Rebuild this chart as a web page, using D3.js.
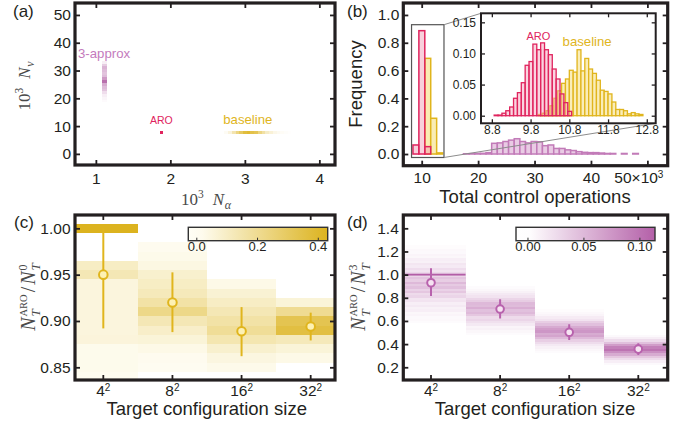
<!DOCTYPE html>
<html>
<head>
<meta charset="utf-8">
<script src="https://cdn.jsdelivr.net/npm/d3@7"></script>
<style>
  body { margin: 0; background: #fff; }
  svg { display: block; font-family: "Liberation Sans", Arial, Helvetica, sans-serif; }
</style>
</head>
<body>
<svg width="693" height="429"></svg>
<script>
// ---------- data ----------
// (a) resource map, 10^3 N_alpha vs 10^3 N_nu
const approxNa = 1.118;
const approxNv = [19, 20, 21, 22, 23, 24, 25, 26, 27, 28, 29, 30, 31, 32, 33];
const approxShade = [0.03, 0.06, 0.1, 0.2, 0.35, 0.4, 0.5, 0.85, 0.6, 0.4, 0.35, 0.4, 0.45, 0.3, 0.1];
const baseNv = 7.8;
const baseNa = [2.75, 2.80, 2.85, 2.90, 2.95, 3.00, 3.05, 3.10, 3.15, 3.20, 3.25, 3.30, 3.35, 3.40, 3.45, 3.50, 3.55, 3.60];
const baseShade = [0.05, 0.15, 0.35, 0.55, 0.7, 0.85, 0.9, 0.8, 0.75, 0.55, 0.4, 0.25, 0.18, 0.1, 0.06, 0.04, 0.02, 0.01];
const aroNa = 1.88, aroNv = 7.8;

// (b) histograms of total control operations (10^3)
const mainEdges = [8.45, 9.5, 10.55, 11.6, 12.65, 13.7];
const aroMain = [0.065, 0.887, 0.053, 0, 0];
const baseMain = [0, 0, 0.688, 0.257, 0.008];
const approxStart = 17.4;
const approxFreq = [0.002, 0.003, 0.004, 0.005, 0.01, 0.077, 0.08, 0.09, 0.1, 0.11, 0.09, 0.08, 0.09,
  0.088, 0.06, 0.065, 0.04, 0.04, 0.03, 0.025, 0.017, 0.012, 0.01, 0.01, 0.007, 0.004, 0.004, 0, 0.004, 0, 0.004];
const aroInsetStart = 8.86;
const aroInset = [0.001, 0.001, 0.004, 0.008, 0.014, 0.028, 0.037, 0.053, 0.081, 0.087,
  0.115, 0.106, 0.117, 0.106, 0.098, 0.075, 0.059, 0.035, 0.021, 0.007];
const baseInsetStart = 10.0;
const baseInset = [0.002, 0.004, 0.008, 0.016, 0.028, 0.040, 0.052, 0.059, 0.073, 0.070, 0.106, 0.072, 0.092,
  0.075, 0.068, 0.057, 0.041, 0.039, 0.035, 0.022, 0.010, 0.010, 0.008, 0.003, 0.005, 0.003, 0.002];

// (c) N_T^ARO / N_T^0 per target size
const sizes = ["4", "8", "16", "32"];
const ratioBinsC = [1.00, 0.99, 0.98, 0.97, 0.96, 0.95, 0.94, 0.93, 0.92, 0.91, 0.90, 0.89, 0.88, 0.87, 0.86, 0.85, 0.84];
const shadeC4 = [0.45, 0, 0, 0, 0.10, 0.13, 0.05, 0.05, 0.05, 0.05, 0.05, 0.05, 0.055, 0.02, 0.02, 0.02, 0.012];
const shadeC8 = [0, 0, 0.015, 0.025, 0.04, 0.08, 0.10, 0.12, 0.16, 0.22, 0.13, 0.09, 0.06, 0.03, 0.015, 0.01, 0];
const shadeC16 = [0, 0, 0, 0, 0, 0, 0.03, 0.07, 0.10, 0.13, 0.16, 0.19, 0.14, 0.08, 0.045, 0.025, 0];
const shadeC32 = [0, 0, 0, 0, 0, 0, 0, 0, 0.06, 0.20, 0.33, 0.36, 0.12, 0.06, 0.03, 0, 0];
const meanC = [0.950, 0.920, 0.889, 0.894];
const lowC = [0.892, 0.888, 0.862, 0.879];
const highC = [1.000, 0.9525, 0.915, 0.909];

// (d) N_T^ARO / N_T^3 per target size (bins of 0.02 from each start)
const startD = [0.58, 0.48, 0.32, 0.22];
const shadeD4 = [0.003, 0.005, 0.004, 0.008, 0.006, 0.012, 0.010, 0.016, 0.012, 0.020, 0.018, 0.030, 0.026, 0.040,
  0.032, 0.045, 0.038, 0.050, 0.035, 0.042, 0.030, 0.028, 0.020, 0.024, 0.015, 0.018, 0.010, 0.012, 0.006, 0.008,
  0.004, 0.005, 0.002, 0.002];
const shadeD8 = [0.003, 0.006, 0.010, 0.008, 0.016, 0.022, 0.030, 0.026, 0.040, 0.050, 0.045, 0.058, 0.048, 0.050,
  0.036, 0.030, 0.020, 0.016, 0.010, 0.006, 0.003];
const shadeD16 = [0.003, 0.006, 0.010, 0.016, 0.025, 0.035, 0.050, 0.065, 0.060, 0.075, 0.070, 0.060, 0.045, 0.035,
  0.020, 0.014, 0.008, 0.005, 0.002];
const shadeD32 = [0.004, 0.012, 0.025, 0.040, 0.060, 0.080, 0.100, 0.090, 0.070, 0.045, 0.025, 0.012, 0.004];
const tieD = 1.0, tieShadeD = 0.12;
const meanD = [0.930, 0.703, 0.502, 0.357];
const lowD = [0.815, 0.622, 0.435, 0.306];
const highD = [1.055, 0.787, 0.571, 0.407];

// ---------- style ----------
const ink = "#231f20";
const red = "#e0245e", gold = "#e0b51d", plum = "#b862ad";
const serif = "'Liberation Serif', 'DejaVu Serif', serif";

const svg = d3.select("svg");
const defs = svg.append("defs");

function clip(id, b) {
  defs.append("clipPath").attr("id", id).append("rect")
    .attr("x", b.x0).attr("y", b.y0).attr("width", b.x1 - b.x0).attr("height", b.y1 - b.y0);
  return `url(#${id})`;
}

function axes(g, x, y, b, o) {
  const tl = o.tl || 5;
  const style = sel => {
    sel.select(".domain").remove();
    sel.selectAll(".tick line").attr("stroke", ink).attr("stroke-width", o.tw || 1.8);
    sel.selectAll(".tick text").attr("fill", ink).style("font-size", (o.fs || 15.5) + "px")
      .style("font-family", "'Liberation Sans', Arial, sans-serif");
  };
  const bottom = g.append("g").attr("transform", `translate(0,${b.y1})`)
    .call(d3.axisBottom(x).tickValues(o.xt).tickFormat(o.xf).tickSize(-tl).tickPadding(o.xp)).call(style);
  g.append("g").attr("transform", `translate(0,${b.y0})`)
    .call(d3.axisTop(x).tickValues(o.xt).tickFormat("").tickSize(-tl)).call(style);
  g.append("g").attr("transform", `translate(${b.x0},0)`)
    .call(d3.axisLeft(y).tickValues(o.yt).tickFormat(o.yf).tickSize(-tl).tickPadding(o.yp)).call(style);
  g.append("g").attr("transform", `translate(${b.x1},0)`)
    .call(d3.axisRight(y).tickValues(o.yt).tickFormat("").tickSize(-tl)).call(style);
  g.append("rect").attr("x", b.x0).attr("y", b.y0)
    .attr("width", b.x1 - b.x0).attr("height", b.y1 - b.y0)
    .attr("fill", "none").attr("stroke", ink).attr("stroke-width", o.fw || 3.2);
  return bottom;
}

function mathLabel(tx, ty, rot, pieces) {
  const g = svg.append("g").attr("transform", `translate(${tx},${ty}) rotate(${rot})`);
  const inner = g.append("g");
  let cx = 0;
  pieces.forEach(p => {
    const items = p.stack || [p];
    let w = 0;
    items.forEach(s => {
      const t = inner.append("text").attr("x", cx).attr("y", s.dy || 0)
        .attr("font-family", serif).attr("font-style", s.it ? "italic" : "normal")
        .attr("font-size", s.fs).attr("fill", "#4a4a4a").text(s.t);
      w = Math.max(w, t.node().getComputedTextLength());
    });
    cx += w + (p.gap || 0);
  });
  inner.attr("transform", `translate(${-cx / 2},0)`);
}

function panelLabel(x, y, t) {
  svg.append("text").attr("x", x).attr("y", y).attr("font-size", 17).attr("fill", ink).text(t);
}

function supTicks(sel) {
  sel.selectAll(".tick text").each(function(d) {
    const t = d3.select(this).text(d);
    t.append("tspan").attr("dy", "-0.5em").attr("font-size", "10px").text("2");
  });
}

function bars(g, x, y, data, fill, stroke, sw) {
  g.append("g").selectAll("rect").data(data.filter(d => d.f > 0)).join("rect")
    .attr("x", d => x(d.x0)).attr("width", d => x(d.x1) - x(d.x0))
    .attr("y", d => y(d.f)).attr("height", d => y(0) - y(d.f))
    .attr("fill", fill).attr("stroke", stroke).attr("stroke-width", sw);
}
const toBins = (start, w, vals) => vals.map((f, i) => ({ x0: start + i * w, x1: start + (i + 1) * w, f }));

// ---------- (a) ----------
{
  const b = { x0: 75, x1: 335, y0: 3, y1: 165 };
  const x = d3.scaleLinear().domain([0.72, 4.21]).range([b.x0, b.x1]);
  const y = d3.scaleLinear().domain([-4, 54.3]).range([b.y1, b.y0]);
  const g = svg.append("g");
  const inner = g.append("g").attr("clip-path", clip("clipA", b)).attr("shape-rendering", "crispEdges");
  const colP = d3.scaleLinear().domain([0, 1]).range(["#ffffff", "#ad579f"]);
  const colG = d3.scaleLinear().domain([0, 1]).range(["#ffffff", "#dcb21c"]);

  inner.selectAll(".ap").data(approxNv).join("rect").attr("class", "ap")
    .attr("x", x(approxNa - 0.038)).attr("width", x(approxNa + 0.038) - x(approxNa - 0.038))
    .attr("y", d => y(d + 0.5)).attr("height", d => y(d - 0.5) - y(d + 0.5))
    .attr("fill", (d, i) => colP(approxShade[i]));

  inner.selectAll(".bs").data(baseNa).join("rect").attr("class", "bs")
    .attr("x", d => x(d - 0.025)).attr("width", d => x(d + 0.025) - x(d - 0.025))
    .attr("y", y(baseNv + 0.55)).attr("height", y(baseNv - 0.55) - y(baseNv + 0.55))
    .attr("fill", (d, i) => colG(baseShade[i]));

  inner.append("rect")
    .attr("x", x(aroNa - 0.02)).attr("width", x(aroNa + 0.02) - x(aroNa - 0.02))
    .attr("y", y(aroNv + 0.5)).attr("height", y(aroNv - 0.5) - y(aroNv + 0.5))
    .attr("fill", red);

  g.append("text").attr("x", x(1.11)).attr("y", y(34.6)).attr("text-anchor", "middle")
    .attr("font-size", 13.2).attr("fill", "#c47bbd").text("3-approx");
  g.append("text").attr("x", x(1.88)).attr("y", y(10.75)).attr("text-anchor", "middle")
    .attr("font-size", 10.5).attr("fill", red).text("ARO");
  g.append("text").attr("x", x(3.04)).attr("y", y(10.6)).attr("text-anchor", "middle")
    .attr("font-size", 13.2).attr("fill", gold).text("baseline");

  axes(g, x, y, b, { xt: [1, 2, 3, 4], xf: d3.format("d"), xp: 7.5, yt: [0, 10, 20, 30, 40, 50], yf: d3.format("d"), yp: 4 });

  mathLabel(206, 205, 0, [{ t: "10", fs: 17 }, { t: "3", fs: 11.5, dy: -7.5, gap: 9 }, { t: "N", fs: 17, it: true, gap: 0.5 }, { t: "α", fs: 12, it: true, dy: 4 }]);
  mathLabel(30, 86, -90, [{ t: "10", fs: 17 }, { t: "3", fs: 11.5, dy: -7.5, gap: 9 }, { t: "N", fs: 17, it: true, gap: 0.5 }, { t: "ν", fs: 12, it: true, dy: 4 }]);
  panelLabel(13, 17, "(a)");
}

// ---------- (b) ----------
{
  const b = { x0: 403.3, x1: 667.7, y0: 3, y1: 165.7 };
  const x = d3.scaleLinear().domain([6.74, 53.6]).range([b.x0, b.x1]);
  const y = d3.scaleLinear().domain([-0.084, 1.086]).range([b.y1, b.y0]);
  const g = svg.append("g");
  const inner = g.append("g").attr("clip-path", clip("clipB", b));

  const mainBins = vals => vals.map((f, i) => ({ x0: mainEdges[i], x1: mainEdges[i + 1], f }));
  bars(inner, x, y, toBins(approxStart, 1, approxFreq), "#e9cbe4", "#c27bb8", 1.5);
  bars(inner, x, y, mainBins(baseMain), "#f9ecb4", gold, 1.5);
  bars(inner, x, y, mainBins(aroMain), "rgba(240,150,178,0.45)", red, 1.5);

  // zoom box and connectors
  const box = { x0: 8.2, x1: 13.95, y0: -0.025, y1: 0.93 };
  const ib = { x0: 481, x1: 655.7, y0: 13.3, y1: 123.3 };
  inner.append("rect").attr("x", x(box.x0)).attr("y", y(box.y1))
    .attr("width", x(box.x1) - x(box.x0)).attr("height", y(box.y0) - y(box.y1))
    .attr("fill", "none").attr("stroke", "#555").attr("stroke-width", 1.2);
  inner.append("line").attr("x1", x(box.x1)).attr("y1", y(box.y1)).attr("x2", ib.x0).attr("y2", ib.y0)
    .attr("stroke", "#8c8c8c").attr("stroke-width", 1);
  inner.append("line").attr("x1", x(box.x1)).attr("y1", y(box.y0)).attr("x2", ib.x1).attr("y2", ib.y1)
    .attr("stroke", "#8c8c8c").attr("stroke-width", 1);

  // inset
  const xi = d3.scaleLinear().domain([8.52, 13.03]).range([ib.x0, ib.x1]);
  const yi = d3.scaleLinear().domain([-0.0122, 0.1645]).range([ib.y1, ib.y0]);
  const gi = g.append("g");
  gi.append("rect").attr("x", ib.x0).attr("y", ib.y0).attr("width", ib.x1 - ib.x0).attr("height", ib.y1 - ib.y0).attr("fill", "#fff");
  const ii = gi.append("g").attr("clip-path", clip("clipI", ib));
  bars(ii, xi, yi, toBins(baseInsetStart, 0.1, baseInset), "#faedb8", gold, 1.3);
  bars(ii, xi, yi, toBins(aroInsetStart, 0.1, aroInset), "rgba(244,160,186,0.45)", red, 1.3);
  gi.append("text").attr("x", xi(10.0)).attr("y", yi(0.122)).attr("text-anchor", "middle")
    .attr("font-size", 11).attr("fill", red).text("ARO");
  gi.append("text").attr("x", xi(11.26)).attr("y", yi(0.112)).attr("text-anchor", "middle")
    .attr("font-size", 13.2).attr("fill", gold).text("baseline");
  axes(gi, xi, yi, ib, { xt: [8.8, 9.8, 10.8, 11.8, 12.8], xf: d3.format(".1f"), xp: 2, yt: [0, 0.05, 0.1, 0.15], yf: d3.format(".2f"), yp: 5, fs: 12, tl: 4, tw: 1.3, fw: 2 });

  const bx = axes(g, x, y, b, { xt: [10, 20, 30, 40, 50], xf: d3.format("d"), xp: 6.5, yt: [0, 0.2, 0.4, 0.6, 0.8, 1.0], yf: d3.format(".1f"), yp: 4 });
  bx.selectAll(".tick text").filter(d => d === 50).text("50×10").attr("dx", -9)
    .append("tspan").attr("dy", "-0.5em").attr("font-size", "10px").text("3");

  svg.append("text").attr("transform", "translate(362,84) rotate(-90)").attr("text-anchor", "middle")
    .attr("font-size", 18.5).attr("fill", ink).text("Frequency");
  svg.append("text").attr("x", 535).attr("y", 203).attr("text-anchor", "middle")
    .attr("font-size", 18.5).attr("fill", ink).text("Total control operations");
  panelLabel(347, 17, "(b)");
}

// colorbar helper
function colorbar(id, cb, dom, col, ticks, fmt) {
  const s = d3.scaleLinear().domain(dom).range([cb.x0, cb.x1]);
  const grad = defs.append("linearGradient").attr("id", id);
  d3.range(0, 1.0001, 0.1).forEach(t => {
    grad.append("stop").attr("offset", t).attr("stop-color", col(dom[0] + t * (dom[1] - dom[0])));
  });
  const g = svg.append("g");
  g.append("rect").attr("x", cb.x0).attr("y", cb.y0).attr("width", cb.x1 - cb.x0).attr("height", cb.y1 - cb.y0)
    .attr("fill", `url(#${id})`).attr("stroke", "#333").attr("stroke-width", 1.4);
  g.selectAll("line").data(ticks).join("line")
    .attr("x1", d => s(d)).attr("x2", d => s(d)).attr("y1", cb.y1).attr("y2", cb.y1 - 3)
    .attr("stroke", "#333").attr("stroke-width", 1);
  g.selectAll("text").data(ticks).join("text")
    .attr("x", d => s(d)).attr("y", cb.y1 + 10.5).attr("text-anchor", "middle")
    .attr("font-size", 13).attr("fill", ink).text(fmt);
}

// ---------- (c) ----------
{
  const b = { x0: 75, x1: 335, y0: 215, y1: 380 };
  const x = d3.scaleBand().domain(sizes).range([68.75, 345.25]);
  const y = d3.scaleLinear().domain([0.8363, 1.0144]).range([b.y1, b.y0]);
  const col = d3.scaleLinear().domain([0, 0.43]).range(["#fffef6", "#dcb31f"]).clamp(true);
  const g = svg.append("g");
  const inner = g.append("g").attr("clip-path", clip("clipC", b));
  const shade = [shadeC4, shadeC8, shadeC16, shadeC32];
  const cells = [];
  sizes.forEach((s, i) => ratioBinsC.forEach((r, j) => { if (shade[i][j] > 0) cells.push({ s, r, v: shade[i][j] }); }));
  inner.append("g").attr("shape-rendering", "crispEdges").selectAll("rect").data(cells).join("rect")
    .attr("x", d => x(d.s)).attr("width", x.bandwidth())
    .attr("y", d => y(d.r + 0.005)).attr("height", d => y(d.r - 0.005) - y(d.r + 0.005))
    .attr("fill", d => col(d.v));
  const cx = s => x(s) + x.bandwidth() / 2;
  inner.selectAll(".eb").data(sizes).join("line").attr("class", "eb")
    .attr("x1", cx).attr("x2", cx).attr("y1", (d, i) => y(lowC[i])).attr("y2", (d, i) => y(highC[i]))
    .attr("stroke", gold).attr("stroke-width", 2);
  inner.selectAll("circle").data(sizes).join("circle")
    .attr("cx", cx).attr("cy", (d, i) => y(meanC[i])).attr("r", 4.3)
    .attr("fill", "#fdf1b4").attr("stroke", gold).attr("stroke-width", 2);

  colorbar("gradC", { x0: 188.3, x1: 327.7, y0: 227.3, y1: 240.7 }, [-0.028, 0.431], col, [0, 0.2, 0.4], d3.format(".1f"));

  const bx = axes(g, x, y, b, { xt: sizes, xf: d => d, xp: 5, yt: [0.85, 0.9, 0.95, 1.0], yf: d3.format(".2f"), yp: 4.5 });
  supTicks(bx);

  mathLabel(35, 297, -90, [{ t: "N", fs: 20, it: true, gap: 1 },
    { stack: [{ t: "ARO", fs: 10.5, dy: -8.5 }, { t: "T", fs: 13, it: true, dy: 5 }], gap: 2 },
    { t: "/", fs: 20, gap: 2 }, { t: "N", fs: 20, it: true, gap: 1 },
    { stack: [{ t: "0", fs: 12, dy: -8.5 }, { t: "T", fs: 13, it: true, dy: 5 }] }]);
  svg.append("text").attr("x", 206.7).attr("y", 415).attr("text-anchor", "middle")
    .attr("font-size", 18.5).attr("fill", ink).text("Target configuration size");
  panelLabel(14, 228, "(c)");
}

// ---------- (d) ----------
{
  const b = { x0: 403.3, x1: 667.7, y0: 215, y1: 380 };
  const x = d3.scaleBand().domain(sizes).range([396.45, 672.85]);
  const y = d3.scaleLinear().domain([0.090, 1.515]).range([b.y1, b.y0]);
  const col = d3.scaleLinear().domain([0, 0.115]).range(["#ffffff", "#b35ea7"]).clamp(true);
  const g = svg.append("g");
  const inner = g.append("g").attr("clip-path", clip("clipD", b));
  const shade = [shadeD4, shadeD8, shadeD16, shadeD32];
  const cells = [];
  sizes.forEach((s, i) => shade[i].forEach((v, j) => cells.push({ s, r0: startD[i] + j * 0.02, v })));
  inner.append("g").attr("shape-rendering", "crispEdges").selectAll("rect").data(cells).join("rect")
    .attr("x", d => x(d.s)).attr("width", x.bandwidth())
    .attr("y", d => y(d.r0 + 0.02)).attr("height", d => y(d.r0) - y(d.r0 + 0.02))
    .attr("fill", d => col(d.v));
  inner.append("rect").attr("x", x(sizes[0])).attr("width", x.bandwidth())
    .attr("y", y(tieD + 0.008)).attr("height", y(tieD - 0.008) - y(tieD + 0.008))
    .attr("fill", col(tieShadeD));
  const cx = s => x(s) + x.bandwidth() / 2;
  inner.selectAll(".eb").data(sizes).join("line").attr("class", "eb")
    .attr("x1", cx).attr("x2", cx).attr("y1", (d, i) => y(lowD[i])).attr("y2", (d, i) => y(highD[i]))
    .attr("stroke", plum).attr("stroke-width", 2);
  inner.selectAll("circle").data(sizes).join("circle")
    .attr("cx", cx).attr("cy", (d, i) => y(meanD[i])).attr("r", 3.8)
    .attr("fill", "#f6e3f2").attr("stroke", plum).attr("stroke-width", 2);

  colorbar("gradD", { x0: 516, x1: 655, y0: 227.3, y1: 240.7 }, [-0.0107, 0.1135], col, [0, 0.05, 0.1], d3.format(".2f"));

  const bx = axes(g, x, y, b, { xt: sizes, xf: d => d, xp: 5, yt: [0.2, 0.4, 0.6, 0.8, 1.0, 1.2, 1.4], yf: d3.format(".1f"), yp: 4.5 });
  supTicks(bx);

  mathLabel(365, 297, -90, [{ t: "N", fs: 20, it: true, gap: 1 },
    { stack: [{ t: "ARO", fs: 10.5, dy: -8.5 }, { t: "T", fs: 13, it: true, dy: 5 }], gap: 2 },
    { t: "/", fs: 20, gap: 2 }, { t: "N", fs: 20, it: true, gap: 1 },
    { stack: [{ t: "3", fs: 12, dy: -8.5 }, { t: "T", fs: 13, it: true, dy: 5 }] }]);
  svg.append("text").attr("x", 535).attr("y", 415).attr("text-anchor", "middle")
    .attr("font-size", 18.5).attr("fill", ink).text("Target configuration size");
  panelLabel(347, 228, "(d)");
}
</script>
</body>
</html>
